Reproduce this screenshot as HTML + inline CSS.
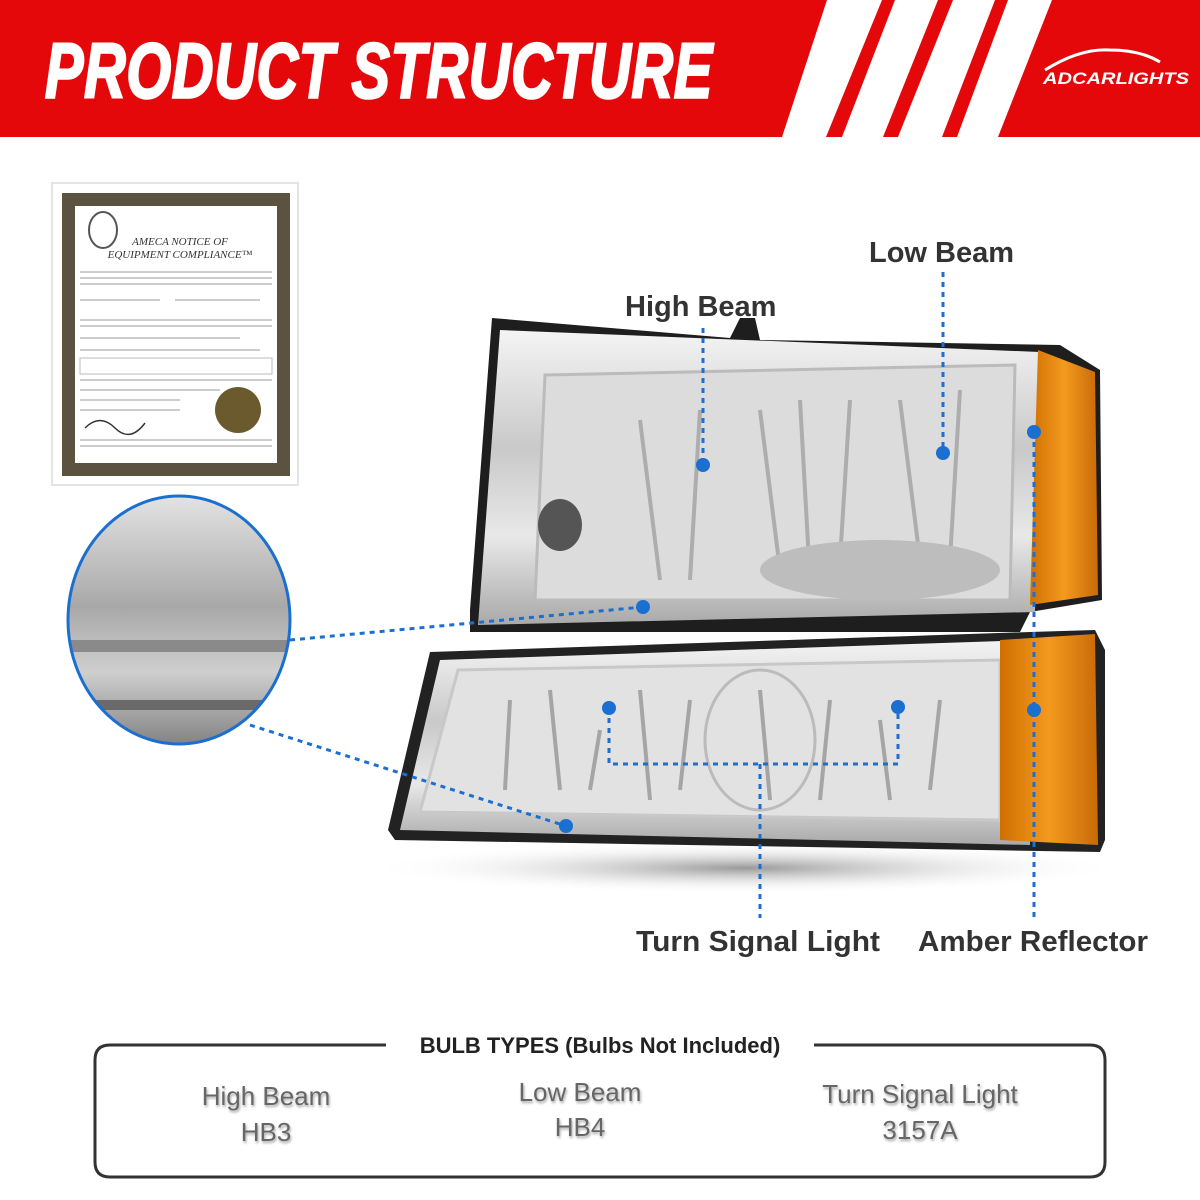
<!DOCTYPE html>
<html><head><meta charset="utf-8"><style>
html,body{margin:0;padding:0;background:#fff}
svg{display:block}
</style></head><body>
<svg width="1200" height="1200" viewBox="0 0 1200 1200" xmlns="http://www.w3.org/2000/svg" font-family="Liberation Sans, sans-serif">
<defs>
<linearGradient id="chrome" x1="0" y1="0" x2="0" y2="1">
<stop offset="0" stop-color="#f4f4f4"/><stop offset="0.4" stop-color="#c9c9c9"/><stop offset="0.7" stop-color="#e8e8e8"/><stop offset="1" stop-color="#a9a9a9"/></linearGradient>
<linearGradient id="amber" x1="0" y1="0" x2="1" y2="0">
<stop offset="0" stop-color="#d07000"/><stop offset="0.5" stop-color="#f39a1e"/><stop offset="1" stop-color="#c96a08"/></linearGradient>
<radialGradient id="shadow" cx="0.5" cy="0.5" r="0.5"><stop offset="0" stop-color="#999"/><stop offset="1" stop-color="#fff" stop-opacity="0"/></radialGradient>
<linearGradient id="zoomg" x1="0" y1="0" x2="0" y2="1"><stop offset="0" stop-color="#e6e6e6"/><stop offset="0.45" stop-color="#a8a8a8"/><stop offset="0.7" stop-color="#cfcfcf"/><stop offset="1" stop-color="#7d7d7d"/></linearGradient>
<filter id="ts"><feDropShadow dx="1" dy="2" stdDeviation="1.2" flood-color="#000" flood-opacity="0.35"/></filter>
<clipPath id="cc"><ellipse cx="179" cy="620" rx="111" ry="124"/></clipPath>
</defs>
<!-- header -->
<polygon points="0,0 827,0 782,137 0,137" fill="#e4080a"/>
<polygon points="882,0 895,0 842,137 826,137" fill="#e4080a"/>
<polygon points="938,0 953,0 898,137 883,137" fill="#e4080a"/>
<polygon points="995,0 1008,0 957,137 942,137" fill="#e4080a"/>
<polygon points="1052,0 1200,0 1200,137 998,137" fill="#e4080a"/>
<text x="45" y="93" font-size="74" font-weight="900" font-style="italic" fill="#fff" stroke="#fff" stroke-width="2.5" transform="scale(1,1.05)" textLength="668" lengthAdjust="spacingAndGlyphs" style="letter-spacing:1px">PRODUCT STRUCTURE</text>
<path d="M1045,70 Q1080,48 1110,50 Q1140,50 1160,62" stroke="#fff" stroke-width="3" fill="none"/>
<text x="1043" y="84" font-size="17" font-weight="900" font-style="italic" fill="#fff" textLength="146" lengthAdjust="spacingAndGlyphs">ADCARLIGHTS</text>
<!-- certificate -->
<rect x="52" y="183" width="246" height="302" fill="#fff" stroke="#e4e4e4" stroke-width="2"/>
<rect x="62" y="193" width="228" height="283" fill="#5c5240"/>
<rect x="75" y="206" width="202" height="257" fill="#fff"/>
<ellipse cx="103" cy="230" rx="14" ry="18" fill="none" stroke="#555" stroke-width="2"/>
<text x="180" y="245" font-size="11" font-family="Liberation Serif, serif" font-style="italic" text-anchor="middle" fill="#333">AMECA NOTICE OF</text>
<text x="180" y="258" font-size="11" font-family="Liberation Serif, serif" font-style="italic" text-anchor="middle" fill="#333">EQUIPMENT COMPLIANCE™</text>
<g stroke="#bbb" stroke-width="1.5">
<line x1="80" y1="272" x2="272" y2="272"/><line x1="80" y1="278" x2="272" y2="278"/><line x1="80" y1="284" x2="272" y2="284"/><line x1="80" y1="300" x2="160" y2="300"/><line x1="175" y1="300" x2="260" y2="300"/><line x1="80" y1="320" x2="272" y2="320"/><line x1="80" y1="326" x2="272" y2="326"/><line x1="80" y1="338" x2="240" y2="338"/><line x1="80" y1="350" x2="260" y2="350"/><line x1="80" y1="380" x2="272" y2="380"/><line x1="80" y1="390" x2="220" y2="390"/><line x1="80" y1="400" x2="180" y2="400"/><line x1="80" y1="410" x2="180" y2="410"/><line x1="80" y1="440" x2="272" y2="440"/><line x1="80" y1="446" x2="272" y2="446"/></g>
<rect x="80" y="358" width="192" height="16" fill="none" stroke="#bbb"/>
<circle cx="238" cy="410" r="23" fill="#6b5a2d"/>
<path d="M85,428 q15,-15 30,0 t30,-5" stroke="#333" fill="none" stroke-width="1.5"/>
<!-- zoom circle -->
<g clip-path="url(#cc)"><rect x="60" y="490" width="240" height="260" fill="url(#zoomg)"/>
<rect x="60" y="640" width="240" height="12" fill="#8a8a8a"/><rect x="60" y="700" width="240" height="10" fill="#6a6a6a"/></g>
<ellipse cx="179" cy="620" rx="111" ry="124" fill="none" stroke="#1a6fd0" stroke-width="3"/>
<!-- shadow -->
<ellipse cx="745" cy="868" rx="380" ry="26" fill="url(#shadow)"/>
<!-- upper lamp -->
<polygon points="492,318 730,338 740,318 755,318 760,340 1060,345 1100,370 1102,600 1030,612 1020,632 470,632 470,610" fill="#1e1e1e"/>
<polygon points="500,330 1040,352 1035,612 478,625" fill="url(#chrome)"/>
<polygon points="545,375 1015,365 1010,600 535,600" fill="#dcdcdc" stroke="#bbb" stroke-width="3"/>
<g stroke="#9a9a9a" stroke-width="4" opacity="0.7">
<line x1="640" y1="420" x2="660" y2="580"/><line x1="700" y1="410" x2="690" y2="580"/><line x1="760" y1="410" x2="780" y2="570"/><line x1="800" y1="400" x2="810" y2="580"/><line x1="850" y1="400" x2="840" y2="560"/><line x1="900" y1="400" x2="920" y2="560"/><line x1="960" y1="390" x2="950" y2="560"/></g>
<ellipse cx="560" cy="525" rx="22" ry="26" fill="#555"/>
<ellipse cx="880" cy="570" rx="120" ry="30" fill="#bdbdbd"/>
<polygon points="1038,350 1095,372 1098,595 1030,605" fill="url(#amber)"/>
<!-- lower lamp -->
<polygon points="430,652 1030,632 1095,630 1105,650 1105,840 1100,852 395,840 388,830" fill="#222"/>
<polygon points="440,660 1030,640 1030,845 400,830" fill="url(#chrome)"/>
<polygon points="458,670 1000,660 1000,820 420,812" fill="#e2e2e2" stroke="#c8c8c8" stroke-width="3"/>
<g stroke="#8c8c8c" stroke-width="4" opacity="0.7">
<line x1="510" y1="700" x2="505" y2="790"/><line x1="550" y1="690" x2="560" y2="790"/><line x1="600" y1="730" x2="590" y2="790"/><line x1="640" y1="690" x2="650" y2="800"/><line x1="690" y1="700" x2="680" y2="790"/><line x1="760" y1="690" x2="770" y2="800"/><line x1="830" y1="700" x2="820" y2="800"/><line x1="880" y1="720" x2="890" y2="800"/><line x1="940" y1="700" x2="930" y2="790"/></g>
<ellipse cx="760" cy="740" rx="55" ry="70" fill="none" stroke="#bbb" stroke-width="3"/>
<polygon points="1000,640 1095,634 1098,845 1000,840" fill="url(#amber)"/>
<!-- connectors -->
<g stroke="#1a6fd0" stroke-width="3" stroke-dasharray="5,5" fill="none">
<line x1="703" y1="328" x2="703" y2="465"/>
<line x1="943" y1="272" x2="943" y2="453"/>
<line x1="1034" y1="432" x2="1034" y2="918"/>
<polyline points="609,708 609,764 898,764 898,707"/>
<line x1="760" y1="764" x2="760" y2="918"/>
<line x1="290" y1="640" x2="643" y2="607"/>
<line x1="250" y1="725" x2="566" y2="826"/>
</g>
<g fill="#1a6fd0">
<circle cx="703" cy="465" r="7"/><circle cx="943" cy="453" r="7"/><circle cx="1034" cy="432" r="7"/><circle cx="643" cy="607" r="7"/><circle cx="609" cy="708" r="7"/><circle cx="898" cy="707" r="7"/><circle cx="566" cy="826" r="7"/><circle cx="1034" cy="710" r="7"/></g>
<g font-weight="bold" fill="#333">
<text x="625" y="316" font-size="29">High Beam</text>
<text x="869" y="262" font-size="29">Low Beam</text>
<text x="636" y="951" font-size="29" textLength="244" lengthAdjust="spacingAndGlyphs">Turn Signal Light</text>
<text x="918" y="951" font-size="29" textLength="230" lengthAdjust="spacingAndGlyphs">Amber Reflector</text>
</g>
<!-- bulb box -->
<path d="M386,1045 H110 Q95,1045 95,1060 V1162 Q95,1177 110,1177 H1090 Q1105,1177 1105,1162 V1060 Q1105,1045 1090,1045 H814" fill="none" stroke="#333" stroke-width="3"/>
<text x="600" y="1053" font-size="22" font-weight="bold" fill="#222" text-anchor="middle">BULB TYPES (Bulbs Not Included)</text>
<g font-size="26" fill="#666" text-anchor="middle" filter="url(#ts)">
<text x="266" y="1105">High Beam</text><text x="266" y="1141">HB3</text>
<text x="580" y="1101">Low Beam</text><text x="580" y="1136">HB4</text>
<text x="920" y="1103">Turn Signal Light</text><text x="920" y="1139">3157A</text>
</g>
</svg>
</body></html>
